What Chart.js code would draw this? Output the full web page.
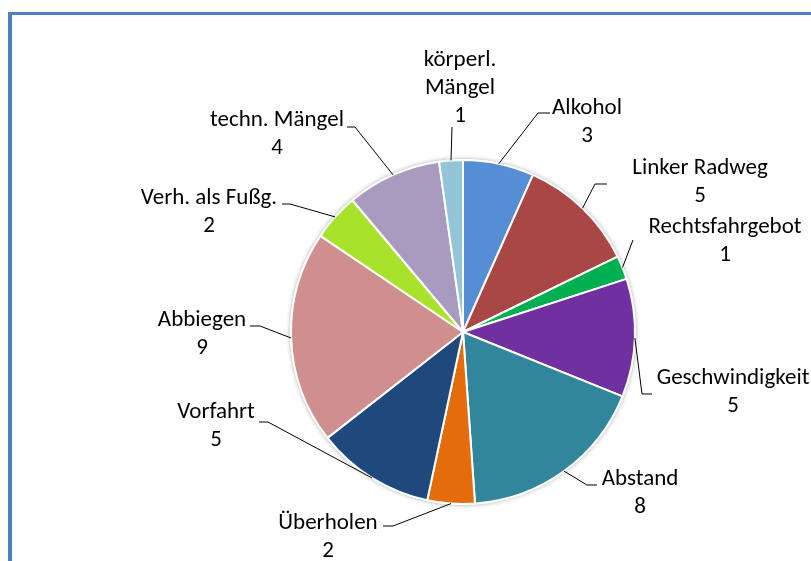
<!DOCTYPE html>
<html lang="de">
<head>
    <meta charset="UTF-8">
    <title>Unfallursachen</title>
    <script src="https://cdn.jsdelivr.net/npm/chart.js"></script>
    <style>
        body {
            margin: 0;
            background-color: #ffffff;
            overflow: hidden;
        }
        .frame {
            position: absolute;
            left: 8px;
            top: 12px;
            width: 900px;
            height: 700px;
            border-left: 4px solid #4F81BD;
            border-top: 3px solid #4F81BD;
        }
        #pieChart {
            position: absolute;
            left: 0;
            top: 0;
        }
    </style>
</head>
<body>
    <div class="frame"></div>
    <canvas id="pieChart" width="811" height="561"></canvas>
    <script>
        const categories = ['Alkohol', 'Linker Radweg', 'Rechtsfahrgebot', 'Geschwindigkeit', 'Abstand',
            'Überholen', 'Vorfahrt', 'Abbiegen', 'Verh. als Fußg.', 'techn. Mängel', ['körperl.', 'Mängel']];
        const counts = [3, 5, 1, 5, 8, 2, 5, 9, 2, 4, 1];
        const sliceColors = ['#558ED5', '#A84743', '#00B050', '#7030A0', '#31869B',
            '#E46C0A', '#1F497D', '#CF8F8E', '#A9E22A', '#A99BBF', '#93C5D8'];

        // where each label sits: text centre of first line, leader elbow, end of short horizontal stroke
        const labelLayout = [
            { tx: 587, ty: 108, ex: 538, ey: 113, hx: 550 },
            { tx: 700, ty: 168, ex: 595, ey: 184, hx: 607 },
            { tx: 725, ty: 227, ex: 633, ey: 240, hx: null },
            { tx: 733, ty: 378, ex: 642, ey: 394, hx: 652 },
            { tx: 640, ty: 479, ex: 587, ey: 485, hx: 597 },
            { tx: 328, ty: 523, ex: 393, ey: 526, hx: 383 },
            { tx: 216, ty: 412, ex: 268, ey: 422, hx: 259 },
            { tx: 202, ty: 320, ex: 260, ey: 326, hx: 250 },
            { tx: 209, ty: 198, ex: 290, ey: 204, hx: 282 },
            { tx: 277, ty: 120, ex: 355, ey: 127, hx: 347 },
            { tx: 460, ty: 60, ex: 452, ey: 127, hx: null }
        ];

        const lineHeight = 28;
        const labelFont = '23px "Carlito", "Calibri", "Liberation Sans", Arial, sans-serif';

        const pieShadow = {
            id: 'pieShadow',
            beforeDatasetsDraw(chart) {
                const arc = chart.getDatasetMeta(0).data[0];
                if (!arc) return;
                const ctx = chart.ctx;
                ctx.save();
                ctx.shadowColor = 'rgba(0, 0, 0, 0.35)';
                ctx.shadowBlur = 4;
                ctx.fillStyle = '#ffffff';
                ctx.beginPath();
                ctx.arc(arc.x, arc.y, arc.outerRadius + 1, 0, Math.PI * 2);
                ctx.fill();
                ctx.restore();
            }
        };

        const outsideLabels = {
            id: 'outsideLabels',
            afterDatasetsDraw(chart) {
                const ctx = chart.ctx;
                const meta = chart.getDatasetMeta(0);
                ctx.save();
                ctx.font = labelFont;
                ctx.fillStyle = '#000000';
                ctx.textAlign = 'center';
                ctx.textBaseline = 'middle';
                meta.data.forEach((arc, i) => {
                    const lay = labelLayout[i];
                    const mid = (arc.startAngle + arc.endAngle) / 2;
                    const sx = arc.x + Math.cos(mid) * arc.outerRadius;
                    const sy = arc.y + Math.sin(mid) * arc.outerRadius;

                    ctx.strokeStyle = '#000000';
                    ctx.lineWidth = 1;
                    ctx.beginPath();
                    ctx.moveTo(sx, sy);
                    ctx.lineTo(lay.ex, lay.ey);
                    if (lay.hx !== null) ctx.lineTo(lay.hx, lay.ey);
                    ctx.stroke();

                    const name = categories[i];
                    const lines = Array.isArray(name) ? name.slice() : [name];
                    lines.push(String(counts[i]));
                    lines.forEach((txt, k) => {
                        ctx.fillText(txt, lay.tx, lay.ty + k * lineHeight);
                    });
                });
                ctx.restore();
            }
        };

        new Chart(document.getElementById('pieChart'), {
            type: 'pie',
            data: {
                labels: categories,
                datasets: [{
                    data: counts,
                    backgroundColor: sliceColors,
                    borderColor: '#ffffff',
                    borderWidth: 2,
                    hoverOffset: 0,
                    offset: 0
                }]
            },
            options: {
                responsive: false,
                devicePixelRatio: 1,
                animation: false,
                layout: {
                    padding: { left: 290, right: 175, top: 159, bottom: 56 }
                },
                plugins: {
                    legend: { display: false },
                    tooltip: { enabled: false }
                }
            },
            plugins: [pieShadow, outsideLabels]
        });
    </script>
</body>
</html>
